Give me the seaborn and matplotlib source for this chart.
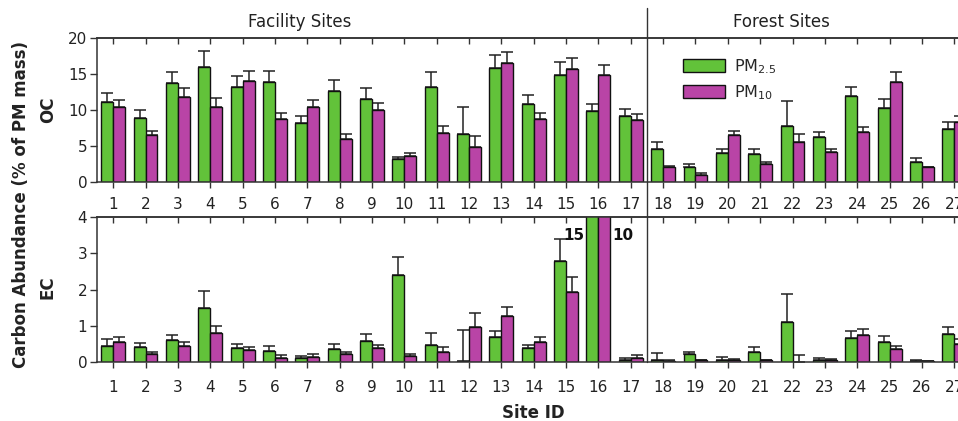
import numpy as np
import pandas as pd
import matplotlib
matplotlib.use("Agg")
import matplotlib.pyplot as plt
import matplotlib.transforms as mtransforms
from matplotlib.patches import Patch
from matplotlib.lines import Line2D
import seaborn as sns

# ---------------- data ----------------
sites = [str(i) for i in range(1, 28)]
series = ["PM2.5", "PM10"]
series_labels = ["PM$_{2.5}$", "PM$_{10}$"]
group_labels = ["Facility Sites", "Forest Sites"]
n_facility = 17

oc_pm25 = [11.1, 8.9, 13.7, 16.0, 13.2, 13.9, 8.2, 12.7, 11.6, 3.1, 13.2, 6.6, 15.9, 10.9,
           14.9, 9.8, 9.1, 4.5, 2.1, 4.0, 3.9, 7.8, 6.3, 11.9, 10.3, 2.7, 7.4]
oc_pm25_err = [1.3, 1.1, 1.6, 2.2, 1.5, 1.6, 1.0, 1.5, 1.4, 0.4, 2.1, 3.8, 1.8, 1.2,
               1.8, 1.1, 1.0, 1.0, 0.3, 0.5, 0.7, 3.4, 0.7, 1.3, 1.2, 0.6, 0.9]
oc_pm10 = [10.4, 6.5, 11.8, 10.4, 14.1, 8.7, 10.4, 6.0, 10.0, 3.6, 6.8, 4.9, 16.6, 8.8,
           15.7, 14.9, 8.6, 2.1, 1.0, 6.5, 2.4, 5.5, 4.1, 7.0, 13.9, 2.0, 8.3]
oc_pm10_err = [1.0, 0.6, 1.2, 1.3, 1.4, 0.9, 1.0, 0.6, 1.0, 0.4, 0.9, 1.5, 1.5, 0.8,
               1.5, 1.4, 0.9, 0.1, 0.2, 0.6, 0.3, 1.1, 0.5, 0.6, 1.4, 0.1, 0.8]

ec_pm25 = [0.43, 0.42, 0.60, 1.49, 0.39, 0.30, 0.10, 0.36, 0.57, 2.39, 0.46, 0.03, 0.68, 0.37,
           2.78, 15, 0.05, 0.04, 0.21, 0.06, 0.26, 1.09, 0.06, 0.65, 0.55, 0.03, 0.77]
ec_pm25_err = [0.19, 0.11, 0.14, 0.48, 0.10, 0.14, 0.07, 0.13, 0.19, 0.52, 0.33, 0.85, 0.16, 0.10,
               0.62, np.nan, 0.04, 0.20, 0.07, 0.08, 0.15, 0.78, 0.05, 0.19, 0.16, 0.01, 0.18]
ec_pm10 = [0.55, 0.21, 0.44, 0.79, 0.33, 0.11, 0.14, 0.20, 0.37, 0.17, 0.26, 0.95, 1.27, 0.55,
           1.94, 10, 0.11, 0.03, 0.04, 0.05, 0.04, 0.0, 0.05, 0.73, 0.34, 0.02, 0.48]
ec_pm10_err = [0.14, 0.07, 0.11, 0.20, 0.09, 0.07, 0.07, 0.07, 0.09, 0.03, 0.14, 0.39, 0.25, 0.13,
               0.42, np.nan, 0.08, 0.02, 0.01, 0.02, 0.02, 0.19, 0.03, 0.18, 0.10, 0.01, 0.14]

oc_ticks = [0, 5, 10, 15, 20]
ec_ticks = [0, 1, 2, 3, 4]

colors = ["#62c23a", "#b944a6"]

# ---------------- figure ----------------
sns.set_style("ticks")
plt.rcParams["font.family"] = ["DejaVu Sans"]
W, H = 958, 421
fig = plt.figure(figsize=(W / 100, H / 100), dpi=100)

left = 97 / W
width = 27 * 32.35 / W
ax_oc = fig.add_axes([left, 1 - 181.7 / H, width, (181.7 - 38.3) / H])
ax_ec = fig.add_axes([left, 1 - 361.7 / H, width, (361.7 - 217.3) / H])


def long_df(v25, v10):
    return pd.DataFrame({
        "site": sites * 2,
        "series": [series[0]] * len(sites) + [series[1]] * len(sites),
        "value": list(v25) + list(v10),
    })


def draw(ax, v25, e25, v10, e10, ticks):
    df = long_df(v25, v10)
    sns.barplot(data=df, x="site", y="value", hue="series", order=sites,
                hue_order=series, palette=colors, saturation=1, width=0.74, errorbar=None,
                edgecolor="#111111", linewidth=1.0, legend=False, ax=ax, zorder=2)
    for cont, err in zip(list(ax.containers)[:2], [e25, e10]):
        xs = [p.get_x() + p.get_width() / 2 for p in cont.patches]
        ys = [p.get_height() for p in cont.patches]
        err = np.asarray(err, dtype=float)
        ax.errorbar(xs, ys, yerr=[np.zeros_like(err), err], fmt="none",
                    ecolor="#222222", elinewidth=1.1, capsize=4, capthick=1.1, zorder=1.5)
    ax.set_xlim(-0.5, len(sites) - 0.5)
    ax.set_ylim(ticks[0], ticks[-1])
    ax.set_yticks(ticks)
    ax.set_xlabel("")
    ax.set_ylabel("")
    for s in ["left", "bottom", "top", "right"]:
        ax.spines[s].set_visible(True)
        ax.spines[s].set_linewidth(1.1)
        ax.spines[s].set_color("#333333")
    ax.tick_params(axis="y", direction="out", length=5, width=1.0, pad=2,
                   labelsize=11, colors="#333333", labelcolor="#222222")
    ax.tick_params(axis="x", direction="out", length=4, width=1.0, pad=8,
                   labelsize=11, colors="#333333", labelcolor="#222222")
    sec = ax.secondary_xaxis("top")
    sec.set_xticks(range(len(sites)))
    sec.tick_params(direction="in", length=4, width=1.0, labeltop=False, colors="#333333")
    sec.spines["top"].set_linewidth(1.1)
    sec.spines["top"].set_color("#333333")


draw(ax_oc, oc_pm25, oc_pm25_err, oc_pm10, oc_pm10_err, oc_ticks)
draw(ax_ec, ec_pm25, ec_pm25_err, ec_pm10, ec_pm10_err, ec_ticks)
ax_oc.tick_params(axis="x", pad=7)
ax_ec.tick_params(axis="x", pad=9)

# separator between facility and forest sites
trans = mtransforms.blended_transform_factory(ax_oc.transData, fig.transFigure)
sep_x = n_facility - 0.5
fig.add_artist(Line2D([sep_x, sep_x], [1 - 8 / H, 1 - 362 / H], transform=trans,
                      color="#333333", linewidth=1.0))

# group labels
fig.text(300 / W, 1 - 22 / H, group_labels[0], ha="center", va="center", fontsize=12, color="#222222")
fig.text(781 / W, 1 - 22 / H, group_labels[1], ha="center", va="center", fontsize=12, color="#222222")

# axis labels
fig.text(21 / W, 1 - 204 / H, "Carbon Abundance (% of PM mass)", rotation=90,
         ha="center", va="center", fontsize=12, fontweight="bold", color="#222222")
fig.text(48 / W, 1 - 110 / H, "OC", rotation=90, ha="center", va="center",
         fontsize=12, fontweight="bold", color="#222222")
fig.text(48 / W, 1 - 287 / H, "EC", rotation=90, ha="center", va="center",
         fontsize=12, fontweight="bold", color="#222222")
fig.text(533 / W, 1 - 413 / H, "Site ID", ha="center", va="center",
         fontsize=12, fontweight="bold", color="#222222")

# off-scale values for site 16 (EC)
i16 = sites.index("16")
ax_ec.text(i16 - 0.42, 3.5, f"{ec_pm25[i16]:g}", ha="right", va="center",
           fontsize=11, fontweight="bold", color="#111111")
ax_ec.text(i16 + 0.42, 3.5, f"{ec_pm10[i16]:g}", ha="left", va="center",
           fontsize=11, fontweight="bold", color="#111111")

# legend
handles = [Patch(facecolor=c, edgecolor="#111111", linewidth=1.0) for c in colors]
ax_oc.legend(handles, series_labels, loc="upper left",
             bbox_to_anchor=(683 / W, 1 - 57 / H), bbox_transform=fig.transFigure,
             frameon=False, borderpad=0, borderaxespad=0, handlelength=2.6,
             handleheight=0.85, handletextpad=0.6, labelspacing=0.45, fontsize=11.5)

fig.savefig("out.png", dpi=100)
